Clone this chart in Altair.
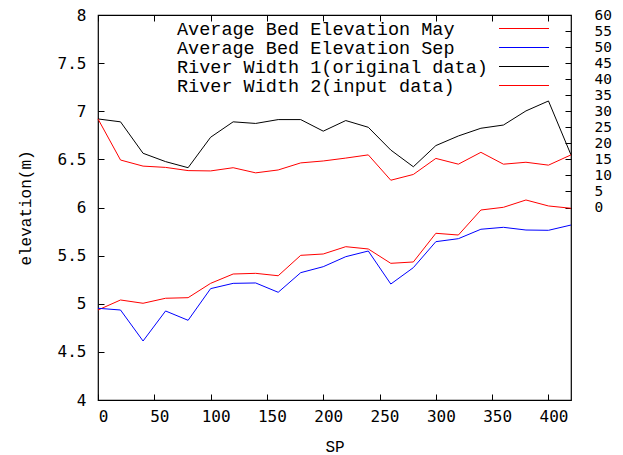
import altair as alt
import pandas as pd

sp = list(range(0, 421, 20))
may = [4.935, 5.039, 5.005, 5.057, 5.063, 5.212, 5.309, 5.316, 5.291, 5.503, 5.517,
       5.593, 5.569, 5.420, 5.434, 5.732, 5.714, 5.974, 6.002, 6.078, 6.016, 5.992]
sep = [4.953, 4.935, 4.613, 4.925, 4.828, 5.157, 5.212, 5.216, 5.119, 5.323, 5.385,
       5.489, 5.548, 5.205, 5.375, 5.645, 5.676, 5.774, 5.794, 5.766, 5.763, 5.818]
rw1 = [27.6, 26.7, 16.9, 14.3, 12.4, 21.9, 26.7, 26.2, 27.4, 27.4, 23.8,
       27.1, 25.0, 17.9, 12.7, 19.3, 22.3, 24.7, 25.7, 30.1, 33.2, 16.4]
rw2 = [27.6, 14.8, 12.9, 12.5, 11.5, 11.4, 12.4, 10.8, 11.7, 13.9, 14.5,
       15.4, 16.4, 8.5, 10.3, 15.3, 13.5, 17.2, 13.5, 14.1, 13.2, 16.4]

names = ["Average Bed Elevation May", "Average Bed Elevation Sep",
         "River Width 1(original data)", "River Width 2(input data)"]
colors = ["#ff0000", "#0000ff", "#000000", "#ff0000"]
x_ticks = list(range(0, 401, 50))
y_ticks = [4, 4.5, 5, 5.5, 6, 6.5, 7, 7.5, 8]
y2_ticks = list(range(0, 61, 5))

n = len(sp)
elev = pd.DataFrame({"SP": sp * 2, "value": may + sep,
                     "series": [names[0]] * n + [names[1]] * n})
wid = pd.DataFrame({"SP": sp * 2, "value": rw1 + rw2,
                    "series": [names[2]] * n + [names[3]] * n})

legend = alt.Legend(title=None, orient="none", legendX=416.75, legendY=4.25,
                    direction="vertical", symbolType="M-4,0H4", symbolSize=156.25,
                    symbolStrokeWidth=1, symbolFillColor="transparent",
                    labelFont="Liberation Mono",
                    labelFontSize=18.5, labelColor="black",
                    labelOffset={"expr": "-356.25"},
                    labelLimit=600, rowPadding=0, padding=0)
color = alt.Color("series:N", scale=alt.Scale(domain=names, range=colors),
                  legend=legend)

xscale = alt.Scale(domain=[0, 420], nice=False, zero=False)

lower = alt.Chart(elev).mark_line(strokeWidth=1).encode(
    x=alt.X("SP:Q", scale=xscale,
            axis=alt.Axis(orient="bottom", values=x_ticks, offset=-6, tickSize=6,
                          domain=False, grid=False, labelFont="DejaVu Sans Mono",
                          labelFontSize=16, labelColor="black", labelPadding=8,
                          labelFlush=False, labelOffset=5, tickColor="black",
                          title="SP", titleFont="Liberation Mono", titleFontSize=16,
                          titleFontWeight="normal", titleColor="black",
                          titlePadding=14)),
    y=alt.Y("value:Q", scale=alt.Scale(domain=[4, 8], nice=False, zero=False),
            axis=alt.Axis(orient="left", values=y_ticks, format="~g", offset=-6,
                          tickSize=6, domain=False, grid=False,
                          labelFont="DejaVu Sans Mono", labelFontSize=16,
                          labelColor="black", labelPadding=12, tickColor="black",
                          title="elevation(m)", titleFont="Liberation Mono",
                          titleFontSize=16, titleFontWeight="normal",
                          titleColor="black", titlePadding=24)),
    color=color,
    detail="series:N",
)

upper = alt.Chart(wid).mark_line(strokeWidth=1).encode(
    x=alt.X("SP:Q", scale=xscale,
            axis=alt.Axis(orient="top", values=x_ticks, offset=-6, tickSize=6,
                          labels=False, domain=False, grid=False,
                          tickColor="black", title=None)),
    y=alt.Y("value:Q", scale=alt.Scale(domain=[-60, 60], nice=False, zero=False),
            axis=alt.Axis(orient="right", values=y2_ticks, format="d", offset=-6,
                          tickSize=6, domain=False, grid=False,
                          labelFont="DejaVu Sans Mono", labelFontSize=14.5,
                          labelColor="black", labelPadding=23, labelOverlap=False,
                          tickColor="black", title=None)),
    color=color,
    detail="series:N",
)

chart = alt.layer(lower, upper).resolve_scale(y="independent").properties(
    width=473, height=385,
    padding={"left": 98, "top": 15, "right": 52, "bottom": 55},
    autosize=alt.AutoSizeParams(type="none"),
    background="white",
).configure_view(stroke="black", strokeWidth=1.2)

chart.save("out.html", embed_options={"renderer": "svg", "actions": False})
